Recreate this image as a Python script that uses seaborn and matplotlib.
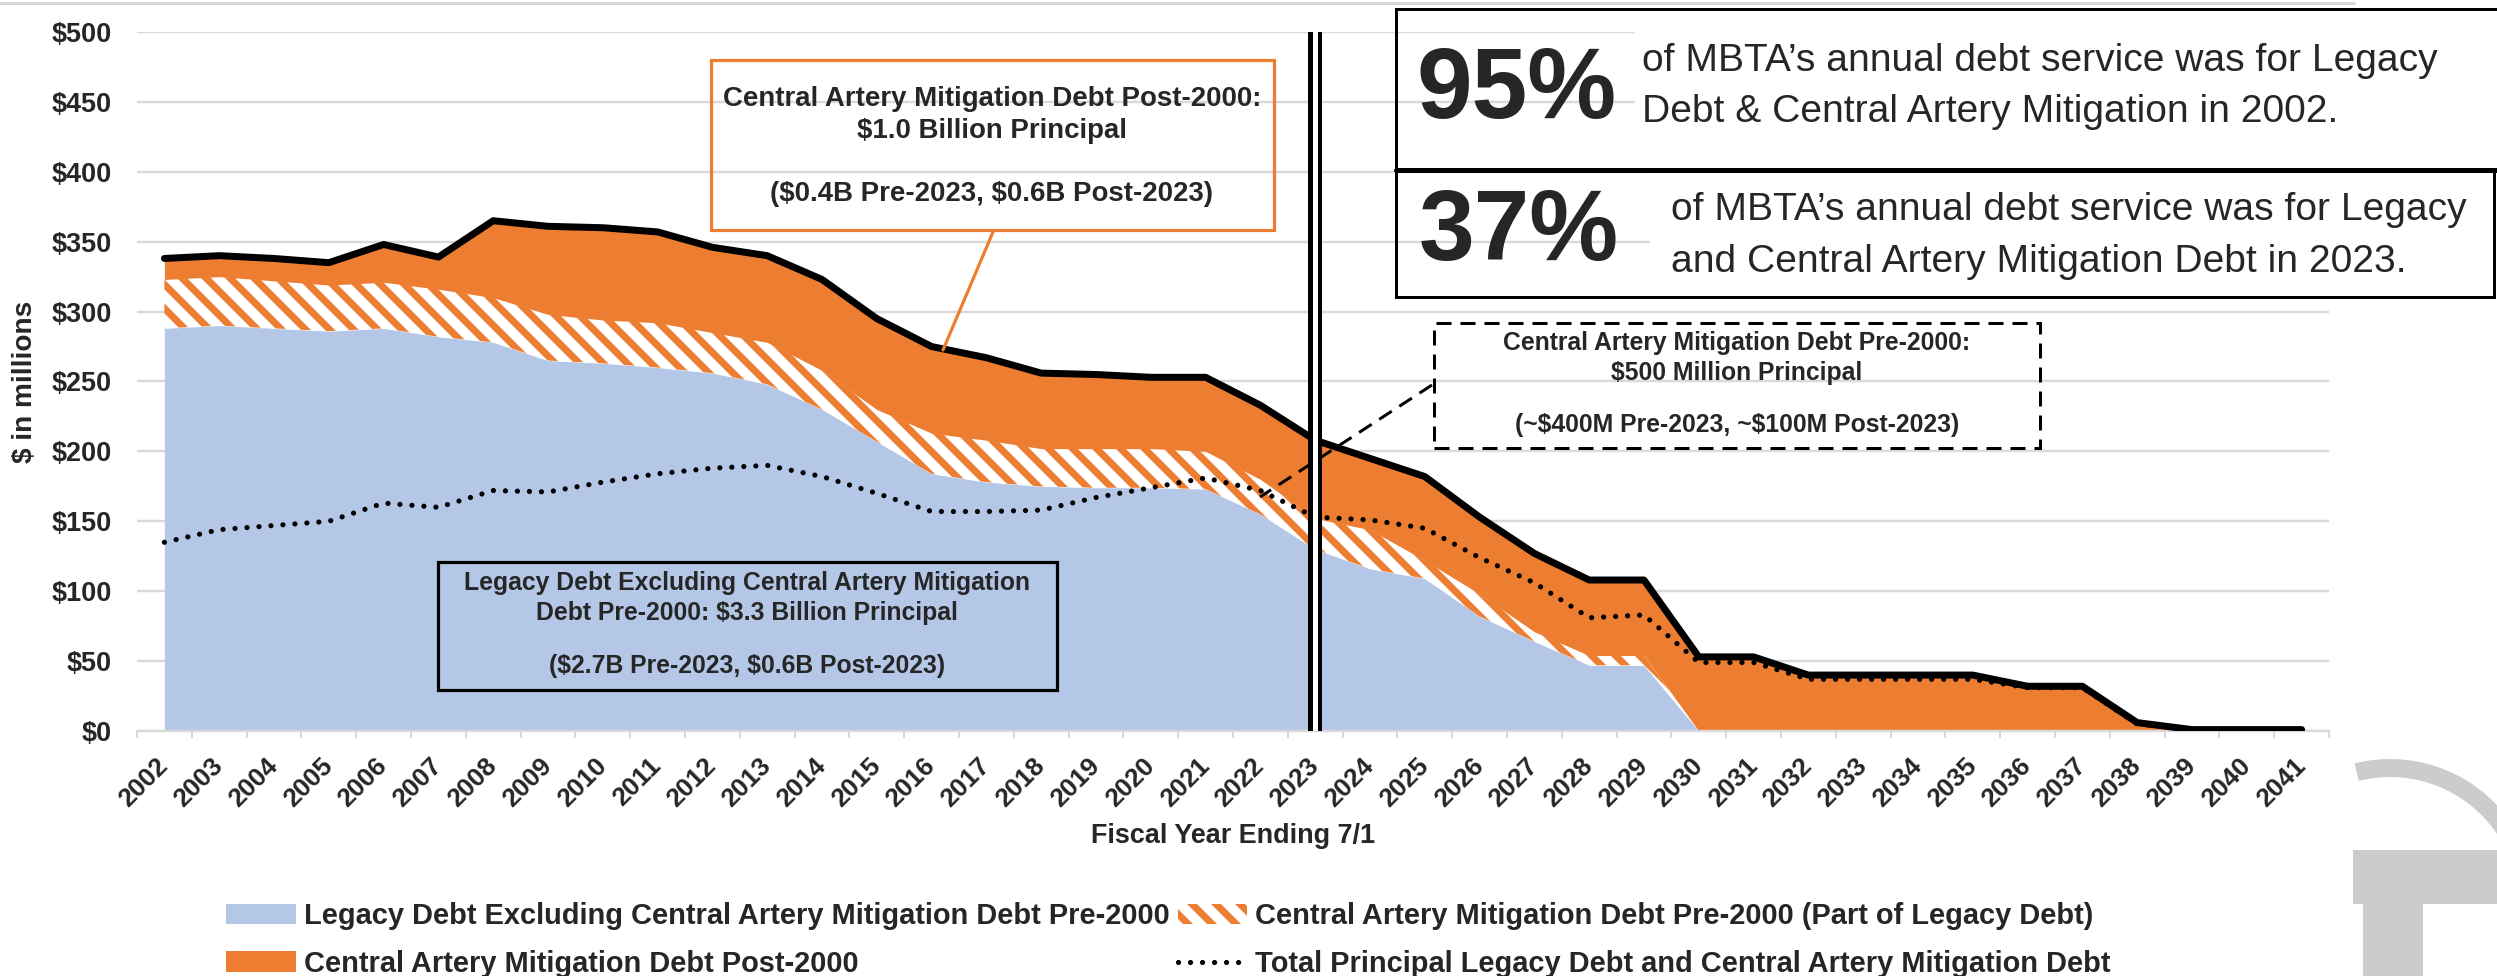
import matplotlib
matplotlib.use("Agg")
import matplotlib.pyplot as plt
from matplotlib.patches import Patch, Rectangle, Wedge
from matplotlib.lines import Line2D
from matplotlib.transforms import IdentityTransform
import numpy as np
import pandas as pd
import seaborn as sns

# values in $ millions
years = list(range(2002, 2042))
legacy_excl = [288, 290, 288, 286, 288, 282, 278, 265, 263, 260, 256, 248, 230, 207, 184, 178, 175, 174, 174, 173,
               155, 130, 116, 109, 82, 64, 47, 47, 0, 0, 0, 0, 0, 0, 0, 0, 0, 0, 0, 0]
ca_pre2000 = [35, 35, 34, 33, 33, 34, 32, 33, 31, 32, 29, 30, 28, 23, 29, 30, 27, 28, 28, 27,
              25, 22, 28, 13, 16, 7, 7, 7, 0, 0, 0, 0, 0, 0, 0, 0, 0, 0, 0, 0]
ca_post2000 = [15, 15, 16, 16, 27, 23, 55, 63, 66, 65, 61, 62, 65, 65, 62, 59, 54, 53, 51, 53,
               53, 56, 51, 60, 55, 56, 54, 54, 53, 53, 40, 40, 40, 40, 32, 32, 6, 1, 1, 1]
total_principal = [135, 144, 147, 150, 163, 160, 172, 171, 178, 184, 188, 190, 182, 170, 157, 157, 158, 167, 174, 181,
                   172, 153, 151, 145, 124, 106, 81, 83, 49, 49, 37, 37, 37, 37, 31, 31, 5, 1, 1, 1]
y_ticks = list(range(0, 501, 50))

BLUE = "#B4C7E7"
ORANGE = "#ED7D31"
GRID = "#D9D9D9"
LOGO = "#CCCCCC"
HATCH = "\\\\"

W, H, DPI = 2497, 976, 144

sns.set_theme(style="white")
plt.rcParams["font.family"] = ["Liberation Sans", "DejaVu Sans"]
plt.rcParams["text.parse_math"] = False
plt.rcParams["hatch.linewidth"] = 3.5
plt.rcParams["hatch.color"] = ORANGE

df = pd.DataFrame({"year": years, "legacy": legacy_excl, "pre": ca_pre2000,
                   "post": ca_post2000, "principal": total_principal})
df["idx"] = np.arange(len(df))
df["top_pre"] = df["legacy"] + df["pre"]
df["total"] = df["top_pre"] + df["post"]


def P(x, y):
    # pixel position (top-left origin) -> figure fraction
    return (x / W, 1 - y / H)


fig = plt.figure(figsize=(W / DPI, H / DPI), dpi=DPI, facecolor="white")
ax = fig.add_axes([137 / W, 1 - 731 / H, 2192 / W, 699 / H])

ax.fill_between(df["idx"], 0, df["legacy"], facecolor=BLUE, lw=0, zorder=1)
ax.fill_between(df["idx"], df["legacy"], df["top_pre"], facecolor="white", edgecolor=ORANGE,
                hatch=HATCH, lw=0, zorder=1)
ax.fill_between(df["idx"], df["top_pre"], df["total"], facecolor=ORANGE, lw=0, zorder=1)

sns.lineplot(data=df, x="idx", y="principal", ax=ax, color="black", lw=2.6,
             linestyle=(0, (0.01, 2.3)), dash_capstyle="round", zorder=4)
sns.lineplot(data=df, x="idx", y="total", ax=ax, color="black", lw=3.5, zorder=5)

# double line marking 2023
i2023 = years.index(2023)
ax.axvline(i2023, color="black", lw=7, zorder=6)
ax.axvline(i2023, color="white", lw=2.5, zorder=7)

ax.set_xlim(-0.5, len(years) - 0.5)
ax.set_ylim(0, 500)
ax.set_xticks(df["idx"])
ax.set_xticklabels(years, rotation=45, ha="right", va="center", rotation_mode="anchor",
                   fontsize=13, fontweight="bold")
ax.set_xticks(np.arange(-0.5, len(years), 1), minor=True)
ax.tick_params(axis="x", which="major", length=0, pad=15.5)
ax.tick_params(axis="x", which="minor", length=3.5, width=1, color=GRID, direction="out", bottom=True)
ax.set_yticks(y_ticks)
ax.set_yticklabels([f"${v}" for v in y_ticks], fontsize=13.5, fontweight="bold")
ax.tick_params(axis="y", length=0, pad=12.5)
ax.grid(axis="y", color=GRID, lw=1.2)
ax.grid(axis="x", visible=False)
for s in ["top", "right", "left"]:
    ax.spines[s].set_visible(False)
ax.spines["bottom"].set_color(GRID)
ax.spines["bottom"].set_linewidth(1.2)

ax.set_xlabel("Fiscal Year Ending 7/1", fontsize=13.5, fontweight="bold")
ax.xaxis.set_label_coords(0.5, -0.131)
ax.set_ylabel("$ in millions", fontsize=14, fontweight="bold")
ax.yaxis.set_label_coords(-0.0452, 0.5)

# legend
handles = [
    Patch(facecolor=BLUE, lw=0),
    Patch(facecolor=ORANGE, lw=0),
    Patch(facecolor="white", edgecolor=ORANGE, hatch=HATCH, lw=0),
    Line2D([], [], color="black", lw=2.6, linestyle=(0, (0.01, 2.3)), dash_capstyle="round"),
]
labels = [
    "Legacy Debt Excluding Central Artery Mitigation Debt Pre-2000",
    "Central Artery Mitigation Debt Post-2000",
    "Central Artery Mitigation Debt Pre-2000 (Part of Legacy Debt)",
    "Total Principal Legacy Debt and Central Artery Mitigation Debt",
]
fig.legend(handles, labels, ncol=2, loc="upper left", bbox_to_anchor=P(226, 902),
           frameon=False, prop={"size": 14.5, "weight": "bold"}, handlelength=2.4,
           handletextpad=0.28, columnspacing=0.28, labelspacing=0.68, borderpad=0, borderaxespad=0)


def box(x0, y0, x1, y1, **kw):
    fig.add_artist(Rectangle(P(x0, y1), (x1 - x0) / W, (y1 - y0) / H,
                             transform=fig.transFigure, **kw))


def lines_text(cx, baselines, lines, size, weight="bold", ha="center"):
    for b, t in zip(baselines, lines):
        fig.text(*P(cx, b), t, ha=ha, va="baseline", fontsize=size, fontweight=weight, zorder=5)


def seg(x0, y0, x1, y1, **kw):
    fig.add_artist(Line2D([x0 / W, x1 / W], [1 - y0 / H, 1 - y1 / H], transform=fig.transFigure, **kw))


# orange call-out
box(711, 60, 1274, 230, fill=False, edgecolor=ORANGE, lw=1.6, zorder=3)
seg(993, 232, 943, 350, color=ORANGE, lw=1.6, zorder=3)
lines_text(992, [106, 138, 201],
           ["Central Artery Mitigation Debt Post-2000:", "$1.0 Billion Principal",
            "($0.4B Pre-2023, $0.6B Post-2023)"], 13.8)

# dashed call-out
box(1434, 323, 2040, 448, fill=False, edgecolor="black", lw=1.5, linestyle=(0, (5, 3)), zorder=3)
seg(1432, 385, 1260, 497, color="black", lw=1.5, linestyle=(0, (5, 3)), zorder=3)
lines_text(1737, [350, 380, 432],
           ["Central Artery Mitigation Debt Pre-2000:", "$500 Million Principal",
            "(~$400M Pre-2023, ~$100M Post-2023)"], 12.4)

# legacy call-out
box(438, 562, 1057, 690, fill=False, edgecolor="black", lw=1.6, zorder=3)
lines_text(747, [590, 620, 673],
           ["Legacy Debt Excluding Central Artery Mitigation",
            "Debt Pre-2000: $3.3 Billion Principal",
            "($2.7B Pre-2023, $0.6B Post-2023)"], 12.4)

# stat boxes
box(1635, 11, 2495, 168, facecolor="white", lw=0, zorder=1)
box(1650, 172, 2492, 295, facecolor="white", lw=0, zorder=1)
box(1396, 9, 2500, 170, fill=False, edgecolor="black", lw=1.5, zorder=2)
box(1396, 170, 2494, 297, fill=False, edgecolor="black", lw=1.5, zorder=2)
seg(1396, 170, 2497, 170, color="black", lw=2.5, zorder=2)
fig.text(*P(1417, 118), "95%", ha="left", va="baseline", fontsize=50, fontweight="bold", zorder=5)
fig.text(*P(1419, 260), "37%", ha="left", va="baseline", fontsize=50, fontweight="bold", zorder=5)
lines_text(1642, [71, 122], ["of MBTA\u2019s annual debt service was for Legacy",
                             "Debt & Central Artery Mitigation in 2002."], 19.5, weight="normal", ha="left")
lines_text(1671, [220, 272], ["of MBTA\u2019s annual debt service was for Legacy",
                              "and Central Artery Mitigation Debt in 2023."], 19.5, weight="normal", ha="left")

# slide decoration: top rule and partial logo
seg(0, 3, 2354, 3, color=GRID, lw=1.5, zorder=1)
fig.add_artist(Wedge((2390, H - 906), 147, 30, 104, width=18, facecolor=LOGO, lw=0,
                     transform=IdentityTransform()))
box(2353, 850, 2497, 904, facecolor=LOGO, lw=0, zorder=1)
box(2363, 904, 2423, 976, facecolor=LOGO, lw=0, zorder=1)

fig.savefig("out.png", dpi=DPI, facecolor="white")
plt.close(fig)
